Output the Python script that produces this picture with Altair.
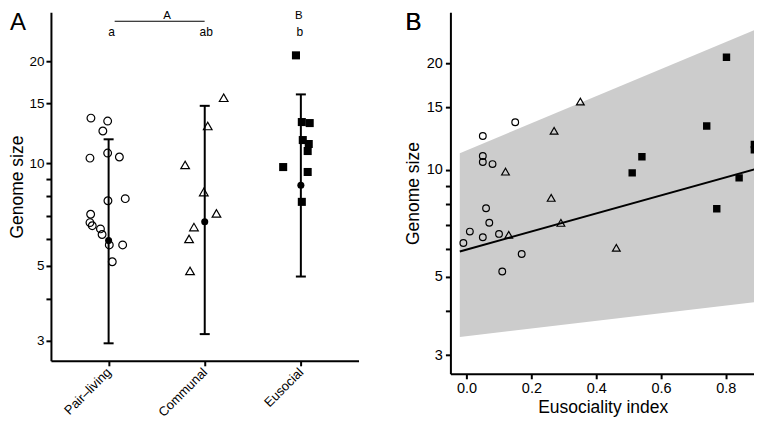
import altair as alt
import pandas as pd

FONT = "Liberation Sans"

# ---------------- Panel A: genome size by social category ----------------
categories = ["Pair–living", "Communal", "Eusocial"]
cat_pos = [1, 2, 3]

pair_x = [0.816, 0.990, 0.940, 0.990, 0.806, 1.112, 0.993, 1.173, 0.813, 0.806, 0.830, 0.915, 0.932, 1.007, 1.146, 1.038]
pair_y = [13.59, 13.32, 12.45, 10.72, 10.36, 10.44, 7.76, 7.87, 7.08, 6.69, 6.55, 6.41, 6.17, 5.75, 5.75, 5.13]
comm_x = [2.197, 2.031, 1.796, 1.990, 2.122, 1.888, 1.837, 1.847]
comm_y = [15.6, 12.88, 9.89, 8.23, 7.12, 6.49, 5.99, 4.82]
eus_x = [2.949, 3.010, 3.092, 3.020, 3.082, 3.071, 2.816, 3.071, 3.010]
eus_y = [20.8, 13.23, 13.14, 11.71, 11.40, 10.87, 9.75, 9.43, 7.70]

mean_y = [5.92, 6.73, 8.62]
ci_lo = [2.95, 3.14, 4.64]
ci_hi = [11.77, 14.77, 15.96]
group_letters = ["a", "ab", "b"]
group_letter_x = [1.03, 2.015, 2.99]
upper_letters = ["A", "B"]
upper_letter_x = [1.607, 2.98]
upper_line_x = [1.063, 1.999]

# ---------------- Panel B: genome size vs eusociality index ----------------
bp_x = [0.050, 0.150, 0.050, 0.050, 0.080, 0.060, 0.070, 0.010, 0.050, 0.100, -0.010, 0.170, 0.110]
bp_y = [12.47, 13.63, 10.95, 10.53, 10.39, 7.80, 7.10, 6.70, 6.46, 6.60, 6.22, 5.79, 5.17]
bc_x = [0.351, 0.270, 0.120, 0.261, 0.291, 0.130, 0.462]
bc_y = [15.6, 12.9, 9.89, 8.34, 7.09, 6.56, 6.03]
be_x = [0.802, 0.741, 0.541, 0.511, 0.841, 0.772, 0.888, 0.888]
be_y = [20.8, 13.3, 10.9, 9.81, 9.5, 7.77, 11.8, 11.4]
fit_x = [-0.021, 0.892]
fit_y = [5.89, 10.06]
band_lo = [3.38, 4.24]
band_hi = [11.15, 24.9]

y_ticks = [3, 4, 5, 6, 7, 8, 9, 10, 15, 20]
y_labelled = [3, 5, 10, 15, 20]
bx_ticks = [0.0, 0.2, 0.4, 0.6, 0.8]

# ---------------- data frames ----------------
dA_pair = pd.DataFrame({"x": pair_x, "y": pair_y})
dA_comm = pd.DataFrame({"x": comm_x, "y": comm_y})
dA_eus = pd.DataFrame({"x": eus_x, "y": eus_y})
dA_sum = pd.DataFrame({"x": cat_pos, "y": mean_y, "lo": ci_lo, "hi": ci_hi})
dA_sum["xl"] = dA_sum["x"] - 0.052
dA_sum["xr"] = dA_sum["x"] + 0.052
dA_let = pd.DataFrame({"x": group_letter_x, "t": group_letters})
dA_up = pd.DataFrame({"x": upper_letter_x, "t": upper_letters})
dA_line = pd.DataFrame({"x": [upper_line_x[0]], "x2": [upper_line_x[1]]})

dB_pair = pd.DataFrame({"x": bp_x, "y": bp_y})
dB_comm = pd.DataFrame({"x": bc_x, "y": bc_y})
dB_eus = pd.DataFrame({"x": be_x, "y": be_y})
dB_fit = pd.DataFrame({"x": fit_x, "y": fit_y, "lo": band_lo, "hi": band_hi})

# ---------------- axes & scales ----------------
common_axis = dict(
    domainColor="black", domainWidth=2, tickColor="black", tickWidth=2,
    tickSize=5, labelColor="black", labelFont=FONT, titleFont=FONT,
    titleColor="black", titleFontWeight="normal", grid=False,
    labelOverlap=False, labelFlush=False,
)

ylab_cond = " || ".join(f"datum.value == {v}" for v in y_labelled)
ylab_expr = f"({ylab_cond}) ? format(datum.value, 'd') : ''"
yA_axis = alt.Axis(values=y_ticks, labelExpr=ylab_expr, labelFontSize=13.5,
                   titleFontSize=17.5, labelPadding=2, titlePadding=2, **common_axis)
yB_axis = alt.Axis(values=y_ticks, labelExpr=ylab_expr, labelFontSize=14.5,
                   titleFontSize=17.5, labelPadding=3, titlePadding=4, **common_axis)

cat_expr = " : ".join(f"datum.value == {p} ? '{c}'" for p, c in zip(cat_pos[:-1], categories[:-1]))
cat_expr = f"{cat_expr} : '{categories[-1]}'"
xA_axis = alt.Axis(values=cat_pos, labelExpr=cat_expr, labelAngle=-45, labelAlign="right",
                   labelBaseline="middle", labelFontSize=13, labelPadding=4, **common_axis)

xB_axis = alt.Axis(values=bx_ticks, format=".1f", labelFontSize=14.5, titleFontSize=17.5,
                   labelPadding=3, titlePadding=3, **common_axis)

sxA = alt.Scale(domain=[0.4, 3.6], nice=False, zero=False)
syA = alt.Scale(type="log", domain=[2.62, 27.86], nice=False)
sxB = alt.Scale(domain=[-0.05, 0.89], nice=False, zero=False)
syB = alt.Scale(type="log", domain=[2.66, 27.86], nice=False)


def XA(f="x"):
    return alt.X(f"{f}:Q", scale=sxA, axis=xA_axis, title=None)


def YA(f="y"):
    return alt.Y(f"{f}:Q", scale=syA, axis=yA_axis, title="Genome size")


def XB(f="x"):
    return alt.X(f"{f}:Q", scale=sxB, axis=xB_axis, title="Eusociality index")


def YB(f="y"):
    return alt.Y(f"{f}:Q", scale=syB, axis=yB_axis, title="Genome size")


# ---------------- Panel A ----------------
a_pair = alt.Chart(dA_pair).mark_point(shape="circle", filled=False, color="black",
                                       strokeWidth=1.2, size=60, opacity=1).encode(x=XA(), y=YA())
a_comm = alt.Chart(dA_comm).mark_point(shape="triangle-up", filled=False, color="black",
                                       strokeWidth=1.2, size=75, opacity=1).encode(x=XA(), y=YA())
a_eus = alt.Chart(dA_eus).mark_point(shape="square", filled=True, color="black",
                                     size=65, opacity=1).encode(x=XA(), y=YA())
a_err = alt.Chart(dA_sum).mark_rule(color="black", strokeWidth=2).encode(
    x=XA(), y=YA("lo"), y2=alt.Y2("hi"))
a_cap_hi = alt.Chart(dA_sum).mark_rule(color="black", strokeWidth=2).encode(
    x=XA("xl"), x2=alt.X2("xr"), y=YA("hi"))
a_cap_lo = alt.Chart(dA_sum).mark_rule(color="black", strokeWidth=2).encode(
    x=XA("xl"), x2=alt.X2("xr"), y=YA("lo"))
a_mean = alt.Chart(dA_sum).mark_point(shape="circle", filled=True, color="black",
                                      size=50, opacity=1).encode(x=XA(), y=YA())
a_let = alt.Chart(dA_let).mark_text(font=FONT, fontSize=12, color="black",
                                    baseline="alphabetic").encode(
    x=XA(), y=alt.value(24), text="t:N")
a_up = alt.Chart(dA_up).mark_text(font=FONT, fontSize=11.5, color="black",
                                  baseline="alphabetic").encode(
    x=XA(), y=alt.value(7), text="t:N")
a_line = alt.Chart(dA_line).mark_rule(color="black", strokeWidth=1).encode(
    x=XA(), x2=alt.X2("x2"), y=alt.value(9))
a_tag = alt.Chart(dA_line).mark_text(text="A", font=FONT, fontSize=24, color="black",
                                     align="left", baseline="alphabetic").encode(
    x=alt.value(-41), y=alt.value(18))

panelA = alt.layer(a_err, a_cap_hi, a_cap_lo, a_pair, a_comm, a_eus, a_mean,
                   a_let, a_up, a_line, a_tag).properties(width=308, height=349)

# ---------------- Panel B ----------------
b_band = alt.Chart(dB_fit).mark_area(color="#cccccc", opacity=1, clip=True).encode(
    x=XB(), y=YB("lo"), y2=alt.Y2("hi"))
b_line = alt.Chart(dB_fit).mark_line(color="black", strokeWidth=2, clip=True).encode(x=XB(), y=YB())
b_pair = alt.Chart(dB_pair).mark_point(shape="circle", filled=False, color="black",
                                       strokeWidth=1.2, size=45, opacity=1).encode(x=XB(), y=YB())
b_comm = alt.Chart(dB_comm).mark_point(shape="triangle-up", filled=False, color="black",
                                       strokeWidth=1.2, size=60, opacity=1).encode(x=XB(), y=YB())
b_eus = alt.Chart(dB_eus).mark_point(shape="square", filled=True, color="black",
                                     size=55, opacity=1, clip=True).encode(x=XB(), y=YB())
b_tag = alt.Chart(dB_fit).mark_text(text="B", font=FONT, fontSize=24, color="black",
                                    align="left", baseline="alphabetic").encode(
    x=alt.value(-45), y=alt.value(18))

panelB = alt.layer(b_band, b_line, b_pair, b_comm, b_eus, b_tag).properties(width=305, height=362)

chart = alt.hconcat(panelA, panelB, spacing=45).properties(
    padding={"left": 0, "top": 2, "right": -1, "bottom": 0},
    background="white",
).configure_view(stroke=None)

chart.save("out.html", embed_options={"renderer": "svg", "actions": False})
